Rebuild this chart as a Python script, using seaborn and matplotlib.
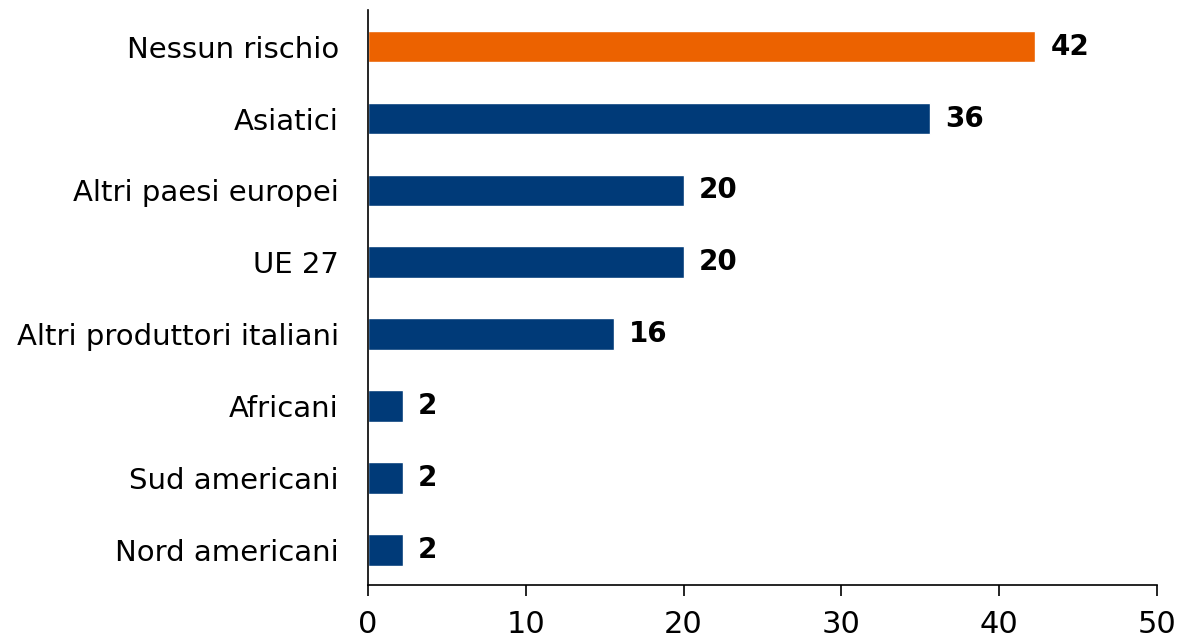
import matplotlib
matplotlib.use("Agg")
import matplotlib.pyplot as plt
import seaborn as sns
import pandas as pd

# dati
categorie = ["Nessun rischio", "Asiatici", "Altri paesi europei", "UE 27",
             "Altri produttori italiani", "Africani", "Sud americani", "Nord americani"]
valori = [42.3, 35.6, 20.0, 20.0, 15.6, 2.2, 2.2, 2.2]
etichette = ["42", "36", "20", "20", "16", "2", "2", "2"]
colori = ["#EC6200"] + ["#003A78"] * 7

sns.set_style("white")
plt.rcParams["font.family"] = ["DejaVu Sans"]

df = pd.DataFrame({"categoria": categorie, "valore": valori})

fig = plt.figure(figsize=(11.78, 6.40), dpi=100)
ax = fig.add_axes([368 / 1178, 55 / 640, 789 / 1178, 575 / 640])

sns.barplot(data=df, x="valore", y="categoria", hue="categoria", palette=colori,
            legend=False, width=0.44, saturation=1, ax=ax)

for i, (v, lab) in enumerate(zip(valori, etichette)):
    ax.text(v + 0.95, i, lab, va="center", ha="left", fontsize=20, fontweight="bold", color="black")

ax.set_xlim(0, 50)
ax.set_ylim(7.49, -0.51)
ax.set_xticks([0, 10, 20, 30, 40, 50])
ax.set_xlabel("")
ax.set_ylabel("")
ax.tick_params(axis="x", bottom=True, direction="out", length=8, width=1.2, labelsize=22, pad=10, colors="black")
ax.tick_params(axis="y", left=False, length=0, labelsize=21, pad=21, colors="black")
for s in ["top", "right"]:
    ax.spines[s].set_visible(False)
for s in ["left", "bottom"]:
    ax.spines[s].set_color("black")
    ax.spines[s].set_linewidth(1.2)

fig.savefig("out.png", dpi=100)
